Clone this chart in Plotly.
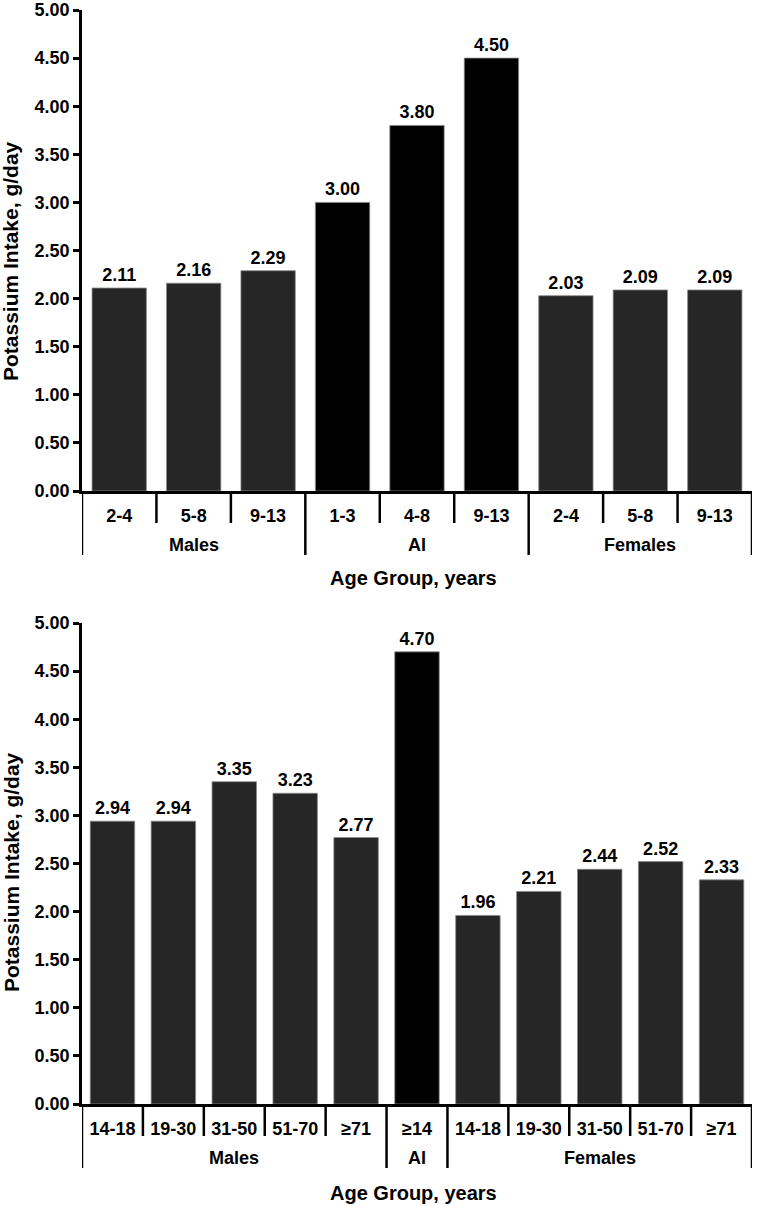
import plotly.graph_objects as go
from plotly.subplots import make_subplots

# ---- data ----
top_groups = ["Males", "Males", "Males", "AI", "AI", "AI", "Females", "Females", "Females"]
top_ages = ["2-4", "5-8", "9-13", "1-3", "4-8", "9-13", "2-4", "5-8", "9-13"]
top_values = [2.11, 2.16, 2.29, 3.00, 3.80, 4.50, 2.03, 2.09, 2.09]

bottom_groups = ["Males"] * 5 + ["AI"] + ["Females"] * 5
bottom_ages = ["14-18", "19-30", "31-50", "51-70", "≥71", "≥14",
               "14-18", "19-30", "31-50", "51-70", "≥71"]
bottom_values = [2.94, 2.94, 3.35, 3.23, 2.77, 4.70, 1.96, 2.21, 2.44, 2.52, 2.33]

y_ticks = [0, 0.5, 1, 1.5, 2, 2.5, 3, 3.5, 4, 4.5, 5]

FONT = "Liberation Sans, Arial, sans-serif"
W, H = 757, 1206
TICK_SIZE = 18
LW = 2.5


def colors(groups):
    return ["#000000" if g == "AI" else "#262626" for g in groups]


fig = make_subplots(rows=2, cols=1)

x0, x1 = 82 / W, 752 / W
doms = [(1 - 491 / H, 1 - 10 / H), (1 - 1104 / H, 1 - 623 / H)]
axis_px = [491, 1104]
ytitle_px = [261, 872]
group_label_px = [545, 1158]
title_px = [578, 1193]

panels = [(top_groups, top_ages, top_values), (bottom_groups, bottom_ages, bottom_values)]

for i, (g, a, v) in enumerate(panels, start=1):
    n = len(v)
    idx = list(range(n))
    fig.add_trace(go.Bar(
        x=idx, y=v,
        marker=dict(color=colors(g), line=dict(color="#8a8a8a", width=0.8)),
        text=[f"{x:.2f}" for x in v], texttemplate="<b>%{text}</b>",
        textposition="outside",
        textfont=dict(family=FONT, size=TICK_SIZE, color="black"),
        cliponaxis=False, showlegend=False, hoverinfo="x+y",
    ), row=i, col=1)

    yd = doms[i - 1]
    fig.update_xaxes(
        row=i, col=1, domain=[x0, x1], range=[-0.5, n - 0.5], automargin=False,
        tickvals=idx, ticktext=[f"<b>{t}</b>" for t in a],
        showline=True, linecolor="black", linewidth=LW,
        ticks="outside", ticklen=7, tickcolor="rgba(0,0,0,0)",
        tickfont=dict(family=FONT, size=TICK_SIZE, color="black"),
        showgrid=False, zeroline=False,
    )
    fig.update_yaxes(
        row=i, col=1, domain=list(yd), range=[0, 5], tickvals=y_ticks, automargin=False,
        ticktext=[f"<b>{t:.2f}</b>" for t in y_ticks],
        showline=True, linecolor="black", linewidth=LW,
        ticks="outside", ticklen=6, tickwidth=LW, tickcolor="black",
        tickfont=dict(family=FONT, size=TICK_SIZE, color="black"),
        showgrid=False, zeroline=False,
    )
    fig.add_annotation(
        text="<b>Potassium Intake, g/day</b>", textangle=-90,
        xref="paper", yref="paper", x=11 / W, y=1 - ytitle_px[i - 1] / H,
        xanchor="center", yanchor="middle",
        showarrow=False, font=dict(family=FONT, size=21, color="black"),
    )

    # boundary lines between categories (short) and groups (long)
    xref = "x" if i == 1 else "x2"
    ax_y = 1 - axis_px[i - 1] / H
    short_y = 1 - (axis_px[i - 1] + 32) / H
    long_y = 1 - (axis_px[i - 1] + 64) / H
    for k in range(n + 1):
        is_group_edge = k == 0 or k == n or g[k] != g[k - 1]
        fig.add_shape(type="line", xref=xref, yref="paper",
                      x0=k - 0.5, x1=k - 0.5, y0=ax_y, y1=long_y if is_group_edge else short_y,
                      line=dict(color="black", width=LW))

    # group labels
    start = 0
    for k in range(1, n + 1):
        if k == n or g[k] != g[start]:
            fig.add_annotation(text=f"<b>{g[start]}</b>", xref=xref, yref="paper",
                               x=(start + k - 1) / 2, y=1 - group_label_px[i - 1] / H,
                               xanchor="center", yanchor="middle", showarrow=False,
                               font=dict(family=FONT, size=TICK_SIZE, color="black"))
            start = k

    fig.add_annotation(text="<b>Age Group, years</b>", xref="paper", yref="paper",
                       x=413 / W, y=1 - title_px[i - 1] / H,
                       xanchor="center", yanchor="middle", showarrow=False,
                       font=dict(family=FONT, size=20, color="black"))

fig.update_layout(
    width=W, height=H, margin=dict(l=0, r=0, t=0, b=0, autoexpand=False),
    paper_bgcolor="white", plot_bgcolor="white",
    bargap=0.27, font=dict(family=FONT, color="black"),
)

fig.write_html("out.html", config={"displayModeBar": False},
               post_script="document.body.style.margin='0';")
